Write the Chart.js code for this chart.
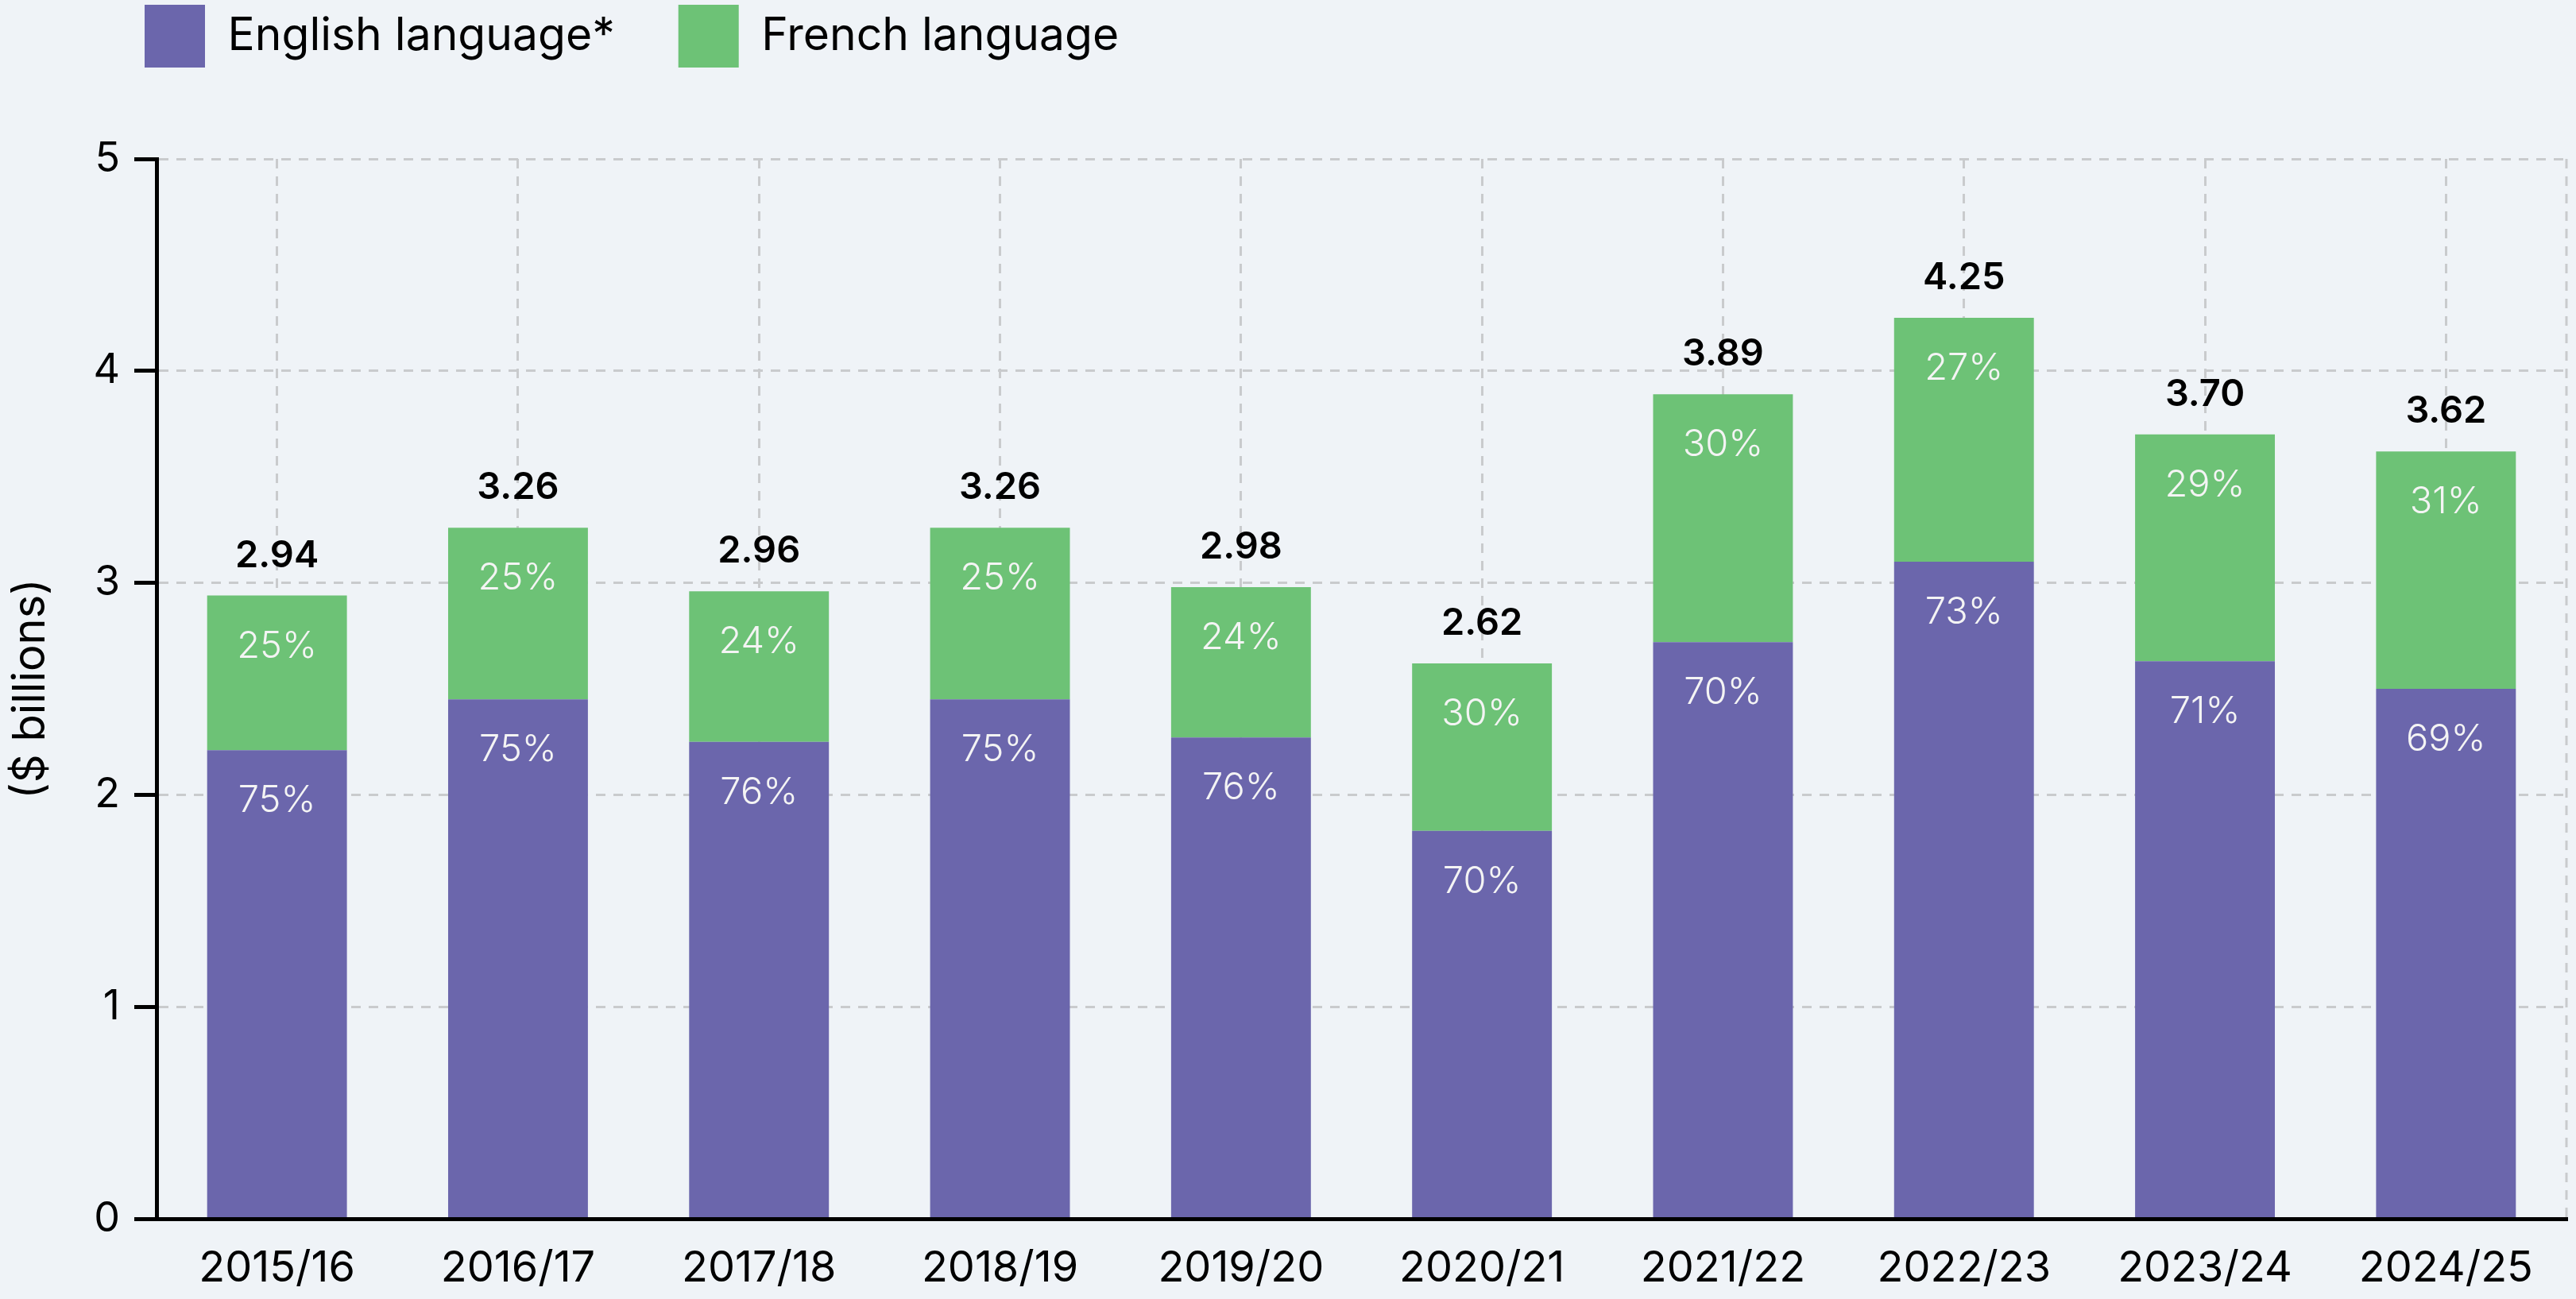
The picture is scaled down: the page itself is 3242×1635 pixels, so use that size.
<!DOCTYPE html>
<html>
<head>
<meta charset="utf-8">
<script src="https://cdn.jsdelivr.net/npm/chart.js@4.4.1/dist/chart.umd.min.js"></script>
<style>
  html, body { margin: 0; padding: 0; background: #eff3f7; }
  #wrap { width: 3242px; height: 1635px; position: relative; }
</style>
</head>
<body>
<div id="wrap"><canvas id="chart"></canvas></div>
<script>
// data
const years = ["2015/16", "2016/17", "2017/18", "2018/19", "2019/20", "2020/21", "2021/22", "2022/23", "2023/24", "2024/25"];
const englishValues = [2.21, 2.45, 2.25, 2.45, 2.27, 1.83, 2.72, 3.10, 2.63, 2.50];
const frenchValues = [0.73, 0.81, 0.71, 0.81, 0.71, 0.79, 1.17, 1.15, 1.07, 1.12];
const totalLabels = ["2.94", "3.26", "2.96", "3.26", "2.98", "2.62", "3.89", "4.25", "3.70", "3.62"];
const englishShare = ["75%", "75%", "76%", "75%", "76%", "70%", "70%", "73%", "71%", "69%"];
const frenchShare = ["25%", "25%", "24%", "25%", "24%", "30%", "30%", "27%", "29%", "31%"];
const yTicks = [0, 1, 2, 3, 4, 5];

const PURPLE = "#6b66ac";
const GREEN = "#6dc276";
const GRID = "#c9cbcd";
const FONT = "Inter";

// percent labels inside segments + totals on top
const barLabels = {
  id: "barLabels",
  afterDatasetsDraw(chart) {
    const ctx = chart.ctx;
    ctx.save();
    ctx.textAlign = "center";
    ctx.textBaseline = "middle";
    ctx.fillStyle = "#f4f4f4";
    ctx.font = "300 47px " + FONT;
    [englishShare, frenchShare].forEach((list, d) => {
      chart.getDatasetMeta(d).data.forEach((bar, i) => {
        ctx.fillText(list[i], bar.x, bar.y + 64);
      });
    });
    ctx.fillStyle = "#000";
    ctx.font = "600 47px " + FONT;
    chart.getDatasetMeta(1).data.forEach((bar, i) => {
      ctx.fillText(totalLabels[i], bar.x, bar.y - 50);
    });
    ctx.restore();
  }
};

// dashed line closing the plot on the right
const rightEdge = {
  id: "rightEdge",
  beforeDatasetsDraw(chart) {
    const a = chart.chartArea;
    const ctx = chart.ctx;
    ctx.save();
    ctx.strokeStyle = GRID;
    ctx.lineWidth = 3;
    ctx.setLineDash([12, 10]);
    ctx.beginPath();
    ctx.moveTo(a.right, a.top);
    ctx.lineTo(a.right, a.bottom);
    ctx.stroke();
    ctx.restore();
  }
};

// move the legend to the top-left corner
const legendSpot = {
  id: "legendSpot",
  afterLayout(chart) {
    const lg = chart.legend;
    const pad = lg.options.labels.padding;
    const w = lg.right - lg.left;
    lg.left = 182 - pad;
    lg.right = lg.left + w;
    lg.top = 6 - pad;
  }
};

function draw() {
  new Chart(document.getElementById("chart"), {
    type: "bar",
    data: {
      labels: years,
      datasets: [
        { label: "English language*", data: englishValues, backgroundColor: PURPLE },
        { label: "French language", data: frenchValues, backgroundColor: GREEN }
      ]
    },
    options: {
      responsive: true,
      maintainAspectRatio: false,
      animation: false,
      layout: { padding: { top: 31, right: 12, bottom: 0, left: 0 } },
      datasets: { bar: { categoryPercentage: 1, barPercentage: 0.58 } },
      scales: {
        x: {
          stacked: true,
          afterFit: (s) => { s.height = 101; },
          grid: { offset: false, color: GRID, lineWidth: 3, drawTicks: false },
          border: { display: true, color: "#000", width: 5, dash: [12, 10], z: 1 },
          ticks: { color: "#000", padding: 30, font: { family: FONT, size: 54 } }
        },
        y: {
          stacked: true,
          min: 0,
          max: 5,
          afterFit: (s) => { s.width = 197; },
          afterBuildTicks: (s) => { s.ticks = yTicks.map((v) => ({ value: v })); },
          grid: { color: GRID, lineWidth: 3, tickLength: 28, tickColor: "#000", tickWidth: 5, tickBorderDash: [] },
          border: { display: true, color: "#000", width: 5, dash: [12, 10], z: 1 },
          ticks: { color: "#000", padding: 18, font: { family: FONT, size: 52 } },
          title: { display: true, text: "($ billions)", color: "#000", padding: { top: 6, bottom: 0 }, font: { family: FONT, size: 56 } }
        }
      },
      plugins: {
        legend: {
          position: "top",
          align: "start",
          labels: { boxWidth: 76, boxHeight: 79, padding: 80, color: "#000", font: { family: FONT, size: 57 } }
        },
        tooltip: { enabled: false }
      }
    },
    plugins: [barLabels, rightEdge, legendSpot]
  });
}

if (document.fonts && document.fonts.load) {
  document.fonts.load("48px " + FONT).then(draw, draw);
} else {
  draw();
}
</script>
</body>
</html>
